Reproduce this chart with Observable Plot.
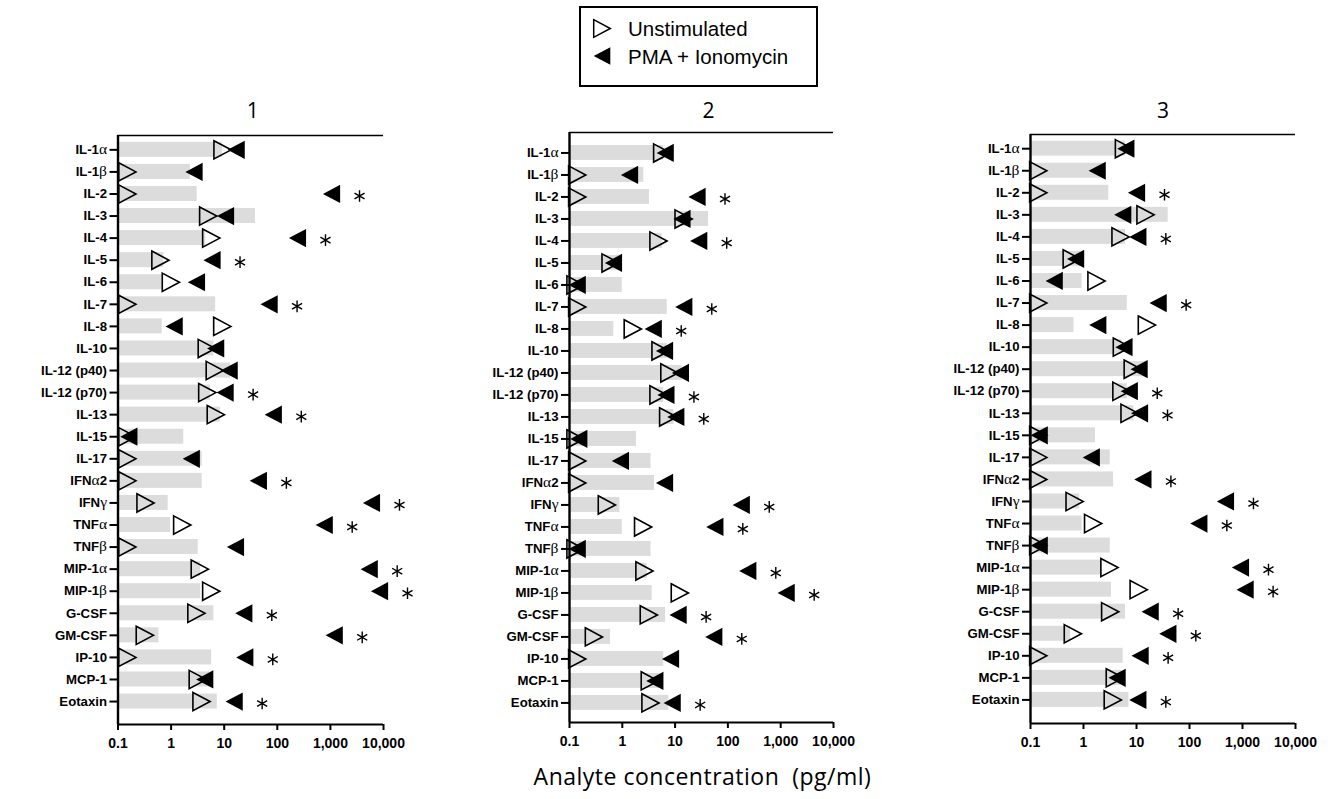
<!DOCTYPE html>
<html>
<head>
<meta charset="utf-8">
<script src="https://cdn.jsdelivr.net/npm/d3@7"></script>
<script src="https://cdn.jsdelivr.net/npm/@observablehq/plot@0.6"></script>
<style>
  body { margin: 0; background: #fff; }
  #root { position: relative; width: 1335px; height: 799px; overflow: hidden; font-family: "Liberation Sans", Arial, sans-serif; }
  .panel { position: absolute; top: 0; }
  .panel svg { overflow: visible; }
</style>
</head>
<body>
<div id="root"></div>
<script>
// ---------------- data ----------------
const analytes = ["IL-1α","IL-1β","IL-2","IL-3","IL-4","IL-5","IL-6","IL-7","IL-8","IL-10",
  "IL-12 (p40)","IL-12 (p70)","IL-13","IL-15","IL-17","IFNα2","IFNγ","TNFα","TNFβ",
  "MIP-1α","MIP-1β","G-CSF","GM-CSF","IP-10","MCP-1","Eotaxin"];

const panelTitles = ["1", "2", "3"];

const xTicks = [0.1, 1, 10, 100, 1000, 10000];
const xTickLabels = ["0.1", "1", "10", "100", "1,000", "10,000"];

const seriesNames = ["Unstimulated", "PMA + Ionomycin"];
const xAxisTitle = "Analyte concentration  (pg/ml)";

// panel 1
const bar1    = [9.2, 2.3, 3.1, 38.8, 4.5, 0.73, 0.68, 6.9, 0.68, 6.4, 13.1, 5.5, 8.5, 1.73, 3.85, 3.85, 0.88, 0.98, 3.24, 3.6, 3.6, 6.4, 0.59, 5.8, 5.5, 7.4];
const unstim1 = [9.3, 0.15, 0.15, 5.0, 5.7, 0.63, 0.99, 0.15, 9.2, 4.7, 6.65, 4.8, 6.95, 0.15, 0.15, 0.15, 0.33, 1.62, 0.15, 3.47, 5.7, 3.0, 0.32, 0.15, 3.18, 3.74];
const stim1   = [16.8, 2.7, 1050, 10.6, 240, 5.9, 3.0, 70, 1.14, 6.9, 12.4, 10.4, 84, 0.16, 2.4, 44, 5940, 764, 16.3, 5380, 8410, 23.4, 1180, 24.4, 4.3, 15.4];
const sig1    = ["IL-2","IL-4","IL-5","IL-7","IL-12 (p70)","IL-13","IFNα2","IFNγ","TNFα","MIP-1α","MIP-1β","G-CSF","GM-CSF","IP-10","Eotaxin"];

// panel 2
const bar2    = [6.1, 2.56, 3.27, 43, 5.7, 1.0, 1.0, 7.1, 0.69, 7.1, 13.6, 6.1, 9.5, 1.86, 3.5, 4.07, 0.9, 1.0, 3.5, 2.96, 3.68, 6.6, 0.6, 6.1, 5.3, 7.6];
const unstim2 = [5.7, 0.14, 0.14, 14.5, 4.85, 0.6, 0.13, 0.14, 1.58, 5.3, 7.8, 4.85, 7.4, 0.13, 0.14, 0.14, 0.51, 2.48, 0.13, 2.63, 12.3, 3.18, 0.29, 0.14, 3.32, 3.42];
const stim2   = [6.5, 1.37, 26, 13.5, 28, 0.68, 0.14, 14.6, 3.85, 6.3, 12.6, 6.7, 10.3, 0.15, 0.92, 6.3, 179, 56.5, 0.14, 238, 1270, 11.4, 54, 8.2, 4.13, 8.8];
const sig2    = ["IL-2","IL-4","IL-7","IL-8","IL-12 (p70)","IL-13","IFNγ","TNFα","MIP-1α","MIP-1β","G-CSF","GM-CSF","Eotaxin"];

// panel 3
const bar3    = [6.2, 2.4, 3.0, 39.6, 6.2, 0.88, 0.94, 6.7, 0.66, 5.3, 15.9, 6.7, 8.9, 1.68, 3.2, 3.7, 0.85, 0.94, 3.2, 2.1, 3.37, 6.2, 0.57, 5.6, 5.3, 7.2];
const unstim3 = [5.8, 0.14, 0.14, 14.8, 5.0, 0.6, 1.76, 0.14, 15.7, 5.3, 8.5, 5.2, 7.4, 0.14, 0.14, 0.14, 0.68, 1.52, 0.14, 3.09, 11, 3.19, 0.63, 0.14, 3.9, 3.57];
const stim3   = [6.3, 1.81, 10, 5.5, 10.6, 0.71, 0.28, 25.6, 1.86, 5.8, 11.2, 7.3, 11.4, 0.146, 1.4, 13.2, 477, 150, 0.146, 916, 1120, 18.1, 39, 11.7, 4.3, 10.6];
const sig3    = ["IL-2","IL-4","IL-7","IL-12 (p70)","IL-13","IFNα2","IFNγ","TNFα","MIP-1α","MIP-1β","G-CSF","GM-CSF","IP-10","Eotaxin"];

// ---------------- custom triangle symbols ----------------
const triRight = { draw(ctx, size) { const r = Math.sqrt(size / Math.PI); const h = r * 1.06;
  ctx.moveTo(-r, -h); ctx.lineTo(r, 0); ctx.lineTo(-r, h); ctx.closePath(); } };
const triLeft = { draw(ctx, size) { const r = Math.sqrt(size / Math.PI); const h = r * 1.06;
  ctx.moveTo(r, -h); ctx.lineTo(-r, 0); ctx.lineTo(r, h); ctx.closePath(); } };

// ---------------- layout ----------------
const root = document.getElementById("root");
const H = 770;
const panels = [
  {bar: bar1, un: unstim1, st: stim1, sig: sig1, left: 0,   width: 430, ml: 117.5, mr: 47, mt: 135, mb: H - 724, yTop: -0.65, yBot: 26.04, tdx: 2},
  {bar: bar2, un: unstim2, st: stim2, sig: sig2, left: 450, width: 440, ml: 119,   mr: 57, mt: 132, mb: H - 722, yTop: -0.93, yBot: 25.89, tdx: 7},
  {bar: bar3, un: unstim3, st: stim3, sig: sig3, left: 895, width: 440, ml: 135,   mr: 40, mt: 134, mb: H - 723, yTop: -0.644, yBot: 26.07, tdx: 0}
];

panels.forEach((p, k) => {
  const rows = analytes.map((name, i) => ({name, i, bar: p.bar[i], un: p.un[i], st: p.st[i], sig: p.sig.includes(name)}));
  const plot = Plot.plot({
    width: p.width, height: H,
    marginLeft: p.ml, marginRight: p.mr, marginTop: p.mt, marginBottom: p.mb,
    style: {background: "transparent", fontFamily: "'Liberation Sans', Arial, sans-serif"},
    x: {type: "log", domain: [xTicks[0], xTicks[xTicks.length - 1]]},
    y: {domain: [p.yTop, p.yBot], range: [p.mt, H - p.mb]},
    marks: [
      Plot.rect(rows, {x1: () => xTicks[0], x2: "bar", y1: d => d.i - 0.34, y2: d => d.i + 0.34, fill: "#dcdcdc"}),
      Plot.dot(rows, {x: "un", y: "i", symbol: triRight, r: 8.6, fill: "none", stroke: "#000", strokeWidth: 1.6}),
      Plot.dot(rows, {x: "st", y: "i", symbol: triLeft, r: 8.6, fill: "#000", stroke: "none"}),
      Plot.dot(rows.filter(d => d.sig), {x: "st", y: "i", symbol: "asterisk", r: 5.5, dx: 28, dy: 2, stroke: "#000", strokeWidth: 1.4}),
      Plot.ruleY([p.yTop], {stroke: "#000", strokeWidth: 1.5}),
      Plot.ruleY([p.yBot], {stroke: "#000", strokeWidth: 2.2}),
      Plot.ruleX([xTicks[0]], {stroke: "#000", strokeWidth: 2.4}),
      Plot.axisY({ticks: d3.range(analytes.length), tickFormat: i => analytes[i], tickSize: 8, tickPadding: 3,
        fontSize: 13.2, fontWeight: "bold", stroke: "#000", strokeWidth: 2, label: null}),
      Plot.axisX({ticks: xTicks, tickFormat: d => xTickLabels[xTicks.indexOf(d)], tickSize: 6, tickPadding: 8,
        fontSize: 14, fontWeight: "bold", stroke: "#000", strokeWidth: 2, label: null}),
      Plot.text([panelTitles[k]], {frameAnchor: "top", dx: p.tdx, dy: 103 - p.mt, fontSize: 21, fontFamily: "'Open Sans', sans-serif", fill: "#000"})
    ]
  });
  // Greek letters in a serif face, as in the original labels
  plot.querySelectorAll('g[aria-label="y-axis tick label"] text').forEach(t => {
    const s = t.textContent;
    if (!/[αβγ]/.test(s)) return;
    t.textContent = "";
    s.split(/([αβγ])/).filter(x => x).forEach(part => {
      const ts = document.createElementNS("http://www.w3.org/2000/svg", "tspan");
      ts.textContent = part;
      if (/[αβγ]/.test(part)) { ts.setAttribute("font-family", "'Liberation Serif', serif"); ts.setAttribute("font-weight", "normal"); ts.setAttribute("font-size", "15.5"); }
      t.appendChild(ts);
    });
  });
  const div = document.createElement("div");
  div.className = "panel";
  div.style.left = p.left + "px";
  div.appendChild(plot);
  root.appendChild(div);
});

// ---------------- legend ----------------
const leg = d3.select(root).append("svg")
  .style("position", "absolute").style("left", "579px").style("top", "6px")
  .attr("width", 240).attr("height", 82);
leg.append("rect").attr("x", 1).attr("y", 1).attr("width", 237).attr("height", 79)
  .attr("fill", "#fff").attr("stroke", "#000").attr("stroke-width", 2);
const legSym = [d3.symbol(triRight, Math.PI * 8.3 * 8.3)(), d3.symbol(triLeft, Math.PI * 8.3 * 8.3)()];
leg.append("path").attr("d", legSym[0]).attr("transform", "translate(23,22.5)").attr("fill", "none").attr("stroke", "#000").attr("stroke-width", 1.5);
leg.append("path").attr("d", legSym[1]).attr("transform", "translate(23,50)").attr("fill", "#000");
leg.selectAll("text.l").data(seriesNames).join("text").attr("class", "l")
  .attr("x", 49).attr("y", (d, i) => i === 0 ? 29.5 : 57.5)
  .attr("font-family", "'Liberation Sans', Arial, sans-serif").attr("font-size", 20.5)
  .text(d => d);

// ---------------- x axis title ----------------
d3.select(root).append("svg")
  .style("position", "absolute").style("left", "0px").style("top", "750px")
  .attr("width", 1335).attr("height", 49)
  .append("text").attr("x", 702.5).attr("y", 35).attr("text-anchor", "middle")
  .style("white-space", "pre").attr("xml:space", "preserve")
  .attr("font-family", "'Open Sans', sans-serif").attr("font-size", 23).attr("letter-spacing", 0.5)
  .text(xAxisTitle);
</script>
</body>
</html>
